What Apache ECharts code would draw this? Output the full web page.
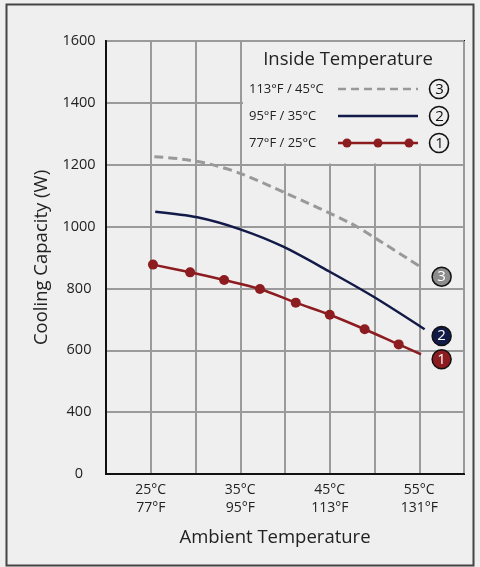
<!DOCTYPE html>
<html>
<head>
<meta charset="utf-8">
<script src="https://cdn.jsdelivr.net/npm/echarts@6/dist/echarts.min.js"></script>
<style>
html,body{margin:0;padding:0;background:#efefef;}
#c{width:480px;height:567px;}
</style>
</head>
<body>
<div id="c"></div>
<script>
// Data (x = ambient temperature in °C, y = cooling capacity in W)
var red25 = [[25.25,877],[29.4,852],[33.2,827],[37.2,798],[41.2,754],[45,715],[48.9,668],[52.7,619],[55.2,587]];
var navy35 = [[25.5,1048],[30.2,1030],[35,991],[39.8,935],[45,854],[49.9,773],[55.6,668]];
var gray45 = [[25.4,1226],[28.5,1218],[31.6,1202],[35,1172],[40.1,1108],[47.3,1011],[50.4,957],[55.3,867]];
var badges = [[57.5,838,'3'],[57.5,646,'2'],[57.5,571,'1']];
var xTickC = {25:'25°C',35:'35°C',45:'45°C',55:'55°C'};
var xTickF = {25:'77°F',35:'95°F',45:'113°F',55:'131°F'};
var legendRows = ['113°F / 45°C','95°F / 35°C','77°F / 25°C'];
var legendNums = ['3','2','1'];

var RED='#8c1c1f', NAVY='#121a48', GRAY='#999999', BADGE_GRAY='#8c8c8c';
var FONT='Open Sans';

var chart = echarts.init(document.getElementById('c'), null, {renderer:'canvas'});
var badgeColors = {'3':BADGE_GRAY,'2':NAVY,'1':RED};

var g = [];
g.push({type:'rect', z:1, shape:{x:6.5,y:4.5,width:467,height:561}, style:{fill:'none',stroke:'#444',lineWidth:2}});
g.push({type:'rect', z:1, shape:{x:243,y:42,width:220,height:121.5}, style:{fill:'#efefef'}});
g.push({type:'text', z:3, style:{text:'Inside Temperature', x:348, y:60, align:'center', verticalAlign:'middle', font:'18.5px "'+FONT+'"', fill:'#222'}});
var rowY=[89,116,143];
for (var i=0;i<3;i++){
  g.push({type:'text', z:3, style:{text:legendRows[i], x:249, y:rowY[i], align:'left', verticalAlign:'middle', font:'13px "'+FONT+'"', fill:'#222'}});
  g.push({type:'circle', z:3, shape:{cx:439,cy:rowY[i],r:9.5}, style:{fill:'none',stroke:'#111',lineWidth:1.6}});
  g.push({type:'text', z:3, style:{text:legendNums[i], x:439.5, y:rowY[i]+0.5, align:'center', verticalAlign:'middle', font:'15px "'+FONT+'"', fill:'#111'}});
}
g.push({type:'line', z:3, shape:{x1:338,y1:rowY[0],x2:418,y2:rowY[0]}, style:{stroke:GRAY,lineWidth:2.5,lineDash:[8,5]}});
g.push({type:'line', z:3, shape:{x1:338,y1:rowY[1],x2:418,y2:rowY[1]}, style:{stroke:NAVY,lineWidth:2.5}});
g.push({type:'line', z:3, shape:{x1:338,y1:rowY[2],x2:418,y2:rowY[2]}, style:{stroke:RED,lineWidth:2.5}});
[347,378,409].forEach(function(cx){
  g.push({type:'circle', z:3, shape:{cx:cx,cy:rowY[2],r:4.5}, style:{fill:RED}});
});

var redData = red25.map(function(p,i){
  return i===red25.length-1 ? {value:p, symbol:'none'} : {value:p};
});

chart.setOption({
  animation:false,
  backgroundColor:'#efefef',
  textStyle:{fontFamily:FONT},
  grid:{left:106,right:16,top:41,bottom:93,show:true,borderColor:'#111',borderWidth:2,backgroundColor:'transparent'},
  xAxis:{
    type:'value', min:20, max:60, interval:5,
    name:'Ambient Temperature', nameLocation:'middle', nameGap:54,
    nameTextStyle:{fontSize:18.5,color:'#222',fontFamily:FONT,padding:[0,20,0,0]},
    axisLine:{show:true,lineStyle:{color:'#111',width:2}},
    axisTick:{show:false},
    splitLine:{show:true,lineStyle:{color:'#9a9a9a',width:2}},
    axisLabel:{margin:7,fontSize:14,lineHeight:18,color:'#222',fontFamily:FONT,
      formatter:function(v){ return xTickC[v] ? xTickC[v]+'\n'+xTickF[v] : ''; }}
  },
  yAxis:{
    type:'value', min:200, max:1600, interval:200,
    name:'Cooling Capacity (W)', nameLocation:'middle', nameGap:54, nameRotate:90,
    nameTextStyle:{fontSize:18.5,color:'#222',fontFamily:FONT},
    axisLine:{show:true,lineStyle:{color:'#111',width:2}},
    axisTick:{show:false},
    splitLine:{show:true,lineStyle:{color:'#9a9a9a',width:2}},
    axisLabel:{margin:27,align:'center',fontSize:14.5,color:'#222',fontFamily:FONT,
      formatter:function(v){ return v===200 ? '0' : String(v); }}
  },
  graphic:g,
  series:[
    {type:'line', data:gray45, smooth:0.3, symbol:'none', z:3,
     lineStyle:{color:GRAY,width:3,type:[9,5]}},
    {type:'line', data:navy35, smooth:0.3, symbol:'none', z:3,
     lineStyle:{color:NAVY,width:2.5}},
    {type:'line', data:redData, smooth:0.3, symbol:'circle', symbolSize:10, z:4,
     itemStyle:{color:RED}, lineStyle:{color:RED,width:2.5}},
    {type:'scatter', z:5, symbolSize:19,
     data:badges.map(function(b){ return {value:[b[0],b[1]], name:b[2],
       itemStyle:{color:badgeColors[b[2]],borderColor:'#111',borderWidth:1.5,opacity:1}}; }),
     label:{show:true,position:'inside',formatter:function(p){return p.name;},color:'#fff',fontSize:15,fontFamily:FONT}}
  ]
});
</script>
</body>
</html>
